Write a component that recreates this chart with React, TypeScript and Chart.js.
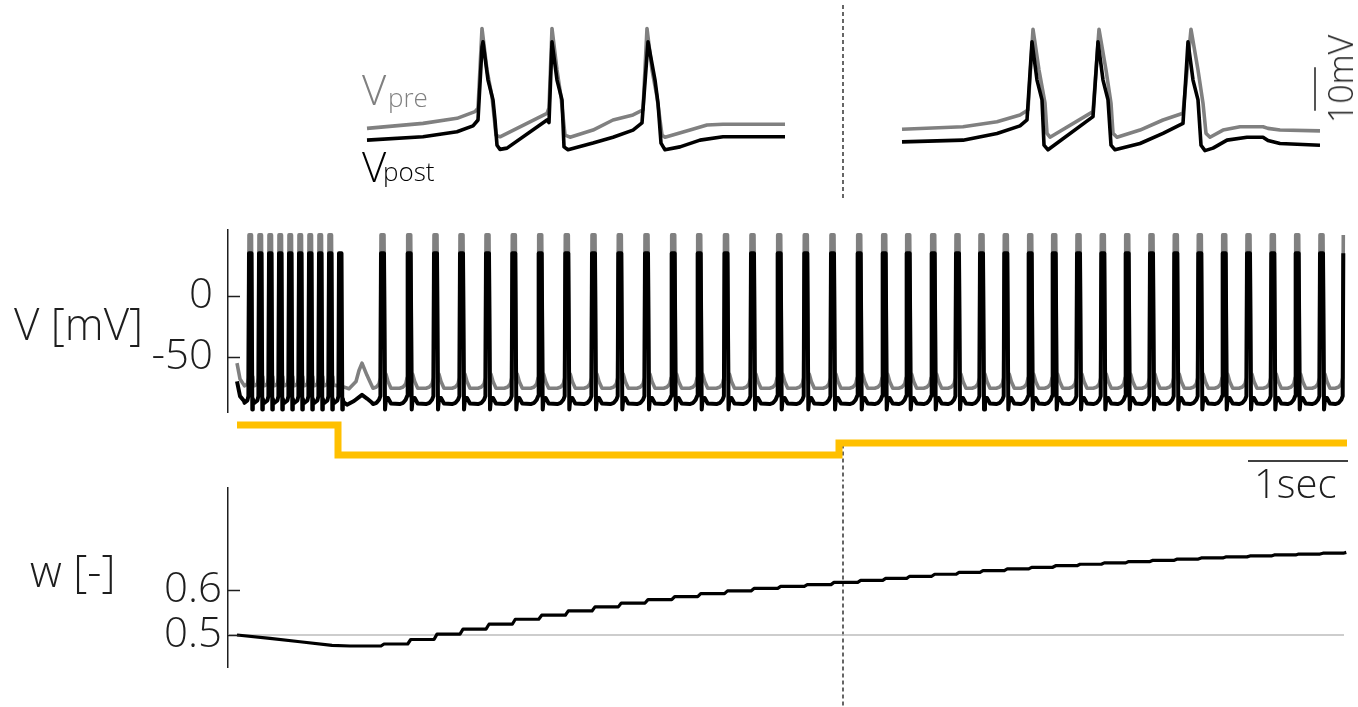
import React, { useEffect, useRef } from "react";
import { Chart, registerables } from "chart.js";

Chart.register(...registerables);

// ---------------- data ----------------
// spike times in seconds
const burstPreTimes = [0.12, 0.22, 0.32, 0.42, 0.52, 0.62, 0.72, 0.82, 0.92];
const burstPostTimes = [0.12, 0.22, 0.32, 0.42, 0.52, 0.62, 0.72, 0.82, 0.92, 1.02];
const tonicTimes = [
  1.44, 1.707, 1.97, 2.23, 2.49, 2.753, 3.017, 3.283, 3.55, 3.813, 4.08, 4.347, 4.607,
  4.875, 5.14, 5.407, 5.673, 5.94, 6.207, 6.457, 6.697, 6.947, 7.19, 7.43, 7.673, 7.917,
  8.157, 8.4, 8.643, 8.887, 9.13, 9.373, 9.613, 9.857, 10.1, 10.343, 10.587, 10.83, 11.063,
];
// spike waveforms during the burst (offset from spike time in s, membrane potential in mV)
const burstShapeT = [-0.045, -0.016, -0.006, 0, 0.025, 0.033, 0.038, 0.045];
const burstShapePre = [-73.5, -72, -67, 50, 50, -70, -66, -73];
const burstShapePost = [-87.5, -85.5, -82, 35, 35, -93, -84, -87];
// spike waveforms during tonic firing
const tonicShapeT = [-0.08, -0.045, -0.02, -0.006, 0, 0.03, 0.04, 0.05, 0.07, 0.1];
const tonicShapePre = [-75.5, -74.5, -72, -67, 50, 50, -69, -64, -70, -75.5];
const tonicShapePost = [-88.5, -87.5, -85, -82, 35, 35, -93, -84, -83.5, -88];
// non-spike parts of the traces (onset transient, sub-threshold bump)
const preExtraT = [0, 0.03, 0.07, 1.05, 1.12, 1.19, 1.22, 1.25, 1.3, 1.34];
const preExtraV = [-55, -68, -73, -74, -76, -70, -61, -55, -65, -72];
const postExtraT = [0, 0.03, 0.07, 1.1, 1.17, 1.25, 1.3, 1.345];
const postExtraV = [-70, -82, -86, -89, -86, -81, -84, -87];
const traceEnd = 11.07;

// synaptic weight w
const wEarlyT = [0, 0.33, 0.63, 0.95, 1.13];
const wEarly = [0.5, 0.4925, 0.485, 0.477, 0.4756];
const wAfterSpike = [
  0.48, 0.49, 0.502, 0.513, 0.524, 0.535, 0.544, 0.5535, 0.5625, 0.571,
  0.5785, 0.5855, 0.592, 0.598, 0.6035, 0.608, 0.612, 0.617, 0.6215, 0.626,
  0.6305, 0.635, 0.639, 0.643, 0.6468, 0.6505, 0.654, 0.6572, 0.6603, 0.6632,
  0.666, 0.6687, 0.6712, 0.6736, 0.6758, 0.6779, 0.6799, 0.6818, 0.6836,
];
const wRef = 0.5;

// stimulus (relative units)
const stimT = [0, 1.01, 1.01, 6.02, 6.02, 11.1];
const stimI = [1, 1, 0, 0, 0.4, 0.4];

// marker time (dashed line)
const markerT = 6.06;

// insets: [time in ms within window, V in mV]
const insetLeftPost: [number, number][] = [
  [0, -66.7], [56, -65.9], [90, -64.7], [106, -63.3], [111, -61.9], [115, -44.5], [116, -43.3],
  [121, -52.4], [126, -57.1], [128, -61.9], [130, -67.9], [133, -68.9], [140, -68.6],
  [180, -61.9], [182, -62.5], [185, -43.3], [190, -52.4], [195, -57.1], [197, -68.3], [201, -69.0],
  [226, -67.4], [246, -66.0], [266, -64.3], [275, -62.6], [281, -43.3], [288, -52.4], [291, -57.9],
  [294, -67.4], [298, -69.0], [313, -68.3], [333, -66.7], [356, -65.9], [418, -65.9],
];
const insetLeftPre: [number, number][] = [
  [0, -63.9], [56, -62.7], [90, -61.5], [108, -59.9], [111, -59.1], [115, -40.1], [120, -50.0],
  [125, -56.4], [129, -65.5], [133, -65.9], [180, -60.3], [182, -59.0], [185, -40.1], [190, -50.0],
  [194, -56.4], [198, -65.5], [203, -66.0], [226, -64.3], [246, -61.9], [266, -60.7], [276, -59.5],
  [280, -40.1], [285, -50.0], [290, -56.4], [295, -65.5], [298, -66.0], [323, -64.3], [340, -63.1],
  [356, -62.9], [418, -62.9],
];
const insetRightPost: [number, number][] = [
  [0, -67.1], [61, -66.7], [95, -65.1], [118, -63.3], [125, -61.9], [130, -43.3], [135, -52.4],
  [140, -57.1], [142, -67.9], [146, -69.0], [191, -61.1], [196, -43.3], [201, -52.4], [206, -57.1],
  [209, -67.9], [213, -69.0], [238, -67.5], [261, -65.1], [281, -62.7], [286, -43.3], [291, -52.4],
  [296, -57.1], [299, -67.9], [303, -69.2], [311, -68.6], [325, -66.7], [345, -66.0], [361, -66.0],
  [366, -66.8], [378, -67.5], [418, -67.9],
];
const insetRightPre: [number, number][] = [
  [0, -64.1], [61, -63.5], [95, -62.3], [118, -60.7], [126, -59.5], [131, -40.3], [137, -50.0],
  [143, -57.9], [145, -65.1], [148, -66.0], [191, -59.9], [197, -40.3], [204, -50.0], [209, -57.9],
  [211, -65.1], [215, -66.0], [238, -64.3], [261, -61.9], [281, -60.3], [289, -40.3], [296, -50.0],
  [301, -57.9], [304, -65.1], [308, -66.0], [321, -64.3], [338, -63.5], [361, -63.5], [366, -63.9],
  [378, -64.3], [418, -64.5],
];

// axis ticks and scale bars
const vTicks = [-50, 0];
const wTicks = [0.5, 0.6];
const scaleBarMV = 10;
const scaleBarSec = 1;

// ---------------- helpers ----------------
const FONT = "'Open Sans', 'Noto Sans', sans-serif";
const GRAY = "#808080";
const INK = "#1e1e1e";

type Pt = { x: number; y: number };

function placeSpikes(pts: Pt[], times: number[], shapeT: number[], shapeV: number[]) {
  times.forEach((s) => shapeT.forEach((dt, i) => pts.push({ x: s + dt, y: shapeV[i] })));
}

function spikeTrain(
  burst: number[],
  burstV: number[],
  tonicV: number[],
  extraT: number[],
  extraV: number[]
) {
  const pts: Pt[] = [];
  placeSpikes(pts, burst, burstShapeT, burstV);
  placeSpikes(pts, tonicTimes, tonicShapeT, tonicV);
  extraT.forEach((t, i) => pts.push({ x: t, y: extraV[i] }));
  pts.sort((a, b) => a.x - b.x);
  return pts.filter((p) => p.x <= traceEnd);
}

function wTrace() {
  const pts = wEarlyT.map((t, i) => ({ x: t, y: wEarly[i] }));
  let prev = wEarly[wEarly.length - 1];
  tonicTimes.forEach((s, i) => {
    pts.push({ x: s, y: prev });
    pts.push({ x: s + 0.03, y: wAfterSpike[i] });
    prev = wAfterSpike[i];
  });
  return pts;
}

const pairs = (arr: [number, number][]) => arr.map(([x, y]) => ({ x, y }));

const line = (data: any[], color: string, width: number, extra: any = {}) => ({
  type: "line",
  data,
  borderColor: color,
  backgroundColor: color,
  borderWidth: width,
  pointRadius: 0,
  pointHoverRadius: 0,
  fill: false,
  tension: 0,
  borderJoinStyle: "round",
  clip: false,
  ...extra,
});

const inwardTicks = {
  id: "inwardTicks",
  afterDatasetsDraw(chart: any, _args: any, opts: any) {
    if (!opts || !opts.scaleId) return;
    const s = chart.scales[opts.scaleId];
    const ctx = chart.ctx;
    const left = chart.chartArea.left;
    ctx.save();
    ctx.strokeStyle = opts.color;
    ctx.lineWidth = opts.width;
    s.ticks.forEach((t: any) => {
      const y = Math.round(s.getPixelForValue(t.value)) + 0.5;
      ctx.beginPath();
      ctx.moveTo(left, y);
      ctx.lineTo(left + opts.length, y);
      ctx.stroke();
    });
    ctx.restore();
  },
};

const baseOptions = (padding: any, scales: any, plugins: any = {}) => ({
  animation: false,
  responsive: false,
  maintainAspectRatio: false,
  events: [],
  layout: { padding },
  plugins: { legend: { display: false }, tooltip: { enabled: false }, ...plugins },
  scales,
});

const hidden = (min: number, max: number) => ({ type: "linear", display: false, min, max });

const yAxis = (min: number, max: number, ticks: number[], pad: number, fmt: (v: number) => string) => ({
  type: "linear",
  position: "left",
  min,
  max,
  afterFit: (s: any) => {
    s.width = 228;
    s.paddingTop = 0;
    s.paddingBottom = 0;
  },
  afterBuildTicks: (s: any) => {
    s.ticks = ticks.map((v) => ({ value: v }));
  },
  grid: { display: false, drawTicks: false },
  border: { display: true, color: INK, width: 1.5 },
  ticks: {
    padding: pad,
    color: INK,
    font: { family: FONT, size: 42, weight: "300", lineHeight: 0.05 },
    callback: (v: any) => fmt(Number(v)),
  },
});

export default function App() {
  const insetRef = useRef<HTMLCanvasElement>(null);
  const vRef = useRef<HTMLCanvasElement>(null);
  const stimRef = useRef<HTMLCanvasElement>(null);
  const wRef2 = useRef<HTMLCanvasElement>(null);

  useEffect(() => {
    const charts: Chart[] = [];

    // --- insets + top part of marker line ---
    charts.push(
      new Chart(insetRef.current as HTMLCanvasElement, {
        type: "line",
        data: {
          datasets: [
            line(pairs(insetLeftPost), "#000", 3.6, { xAxisID: "xL", yAxisID: "y" }),
            line(pairs(insetRightPost), "#000", 3.6, { xAxisID: "xR", yAxisID: "y" }),
            line(pairs(insetLeftPre), GRAY, 3.6, { xAxisID: "xL", yAxisID: "y" }),
            line(pairs(insetRightPre), GRAY, 3.6, { xAxisID: "xR", yAxisID: "y" }),
            line([{ x: 413, y: -49.5 }, { x: 413, y: -49.5 - scaleBarMV }], "#555", 2, { xAxisID: "xR", yAxisID: "y" }),
            line([{ x: markerT, y: -34.5 }, { x: markerT, y: -80.5 }], "#000", 1.2, {
              xAxisID: "xt",
              yAxisID: "y",
              borderDash: [4, 3],
            }),
          ],
        } as any,
        options: baseOptions(0, {
          xL: hidden(-367, 991),
          xR: hidden(-902, 456),
          xt: hidden(-2.37, 11.21),
          y: hidden(-80.95, -33.33),
        }) as any,
      })
    );

    // --- membrane potential panel ---
    charts.push(
      new Chart(vRef.current as HTMLCanvasElement, {
        type: "line",
        data: {
          datasets: [
            line(spikeTrain(burstPostTimes, burstShapePost, tonicShapePost, postExtraT, postExtraV), "#000", 4),
            line(spikeTrain(burstPreTimes, burstShapePre, tonicShapePre, preExtraT, preExtraV), GRAY, 3.6),
          ],
        } as any,
        options: baseOptions(
          { left: 0, right: 11, top: 10, bottom: 8 },
          {
            x: hidden(-0.09, 11.1),
            y: yAxis(-95, 54, vTicks, 15, (v) => String(v)),
          },
          { inwardTicks: { scaleId: "y", color: INK, width: 1.5, length: 12 } }
        ) as any,
        plugins: [inwardTicks],
      })
    );

    // --- stimulus + time scale bar ---
    charts.push(
      new Chart(stimRef.current as HTMLCanvasElement, {
        type: "line",
        data: {
          datasets: [
            line(stimT.map((t, i) => ({ x: t, y: stimI[i] })), "#ffc000", 7, { borderJoinStyle: "miter" }),
            line([{ x: 11.11 - scaleBarSec, y: -0.2 }, { x: 11.11, y: -0.2 }], "#000", 1.5),
            line([{ x: markerT, y: 0.35 }, { x: markerT, y: -0.95 }], "#000", 1.2, { borderDash: [4, 3] }),
          ],
        } as any,
        options: baseOptions(
          { left: 228, right: 11, top: 10, bottom: 15 },
          { x: hidden(-0.09, 11.1), y: hidden(-0.3333, 1.3333) }
        ) as any,
      })
    );

    // --- synaptic weight panel ---
    charts.push(
      new Chart(wRef2.current as HTMLCanvasElement, {
        type: "line",
        data: {
          datasets: [
            line(wTrace(), "#000", 3.2),
            line([{ x: -0.09, y: wRef }, { x: traceEnd, y: wRef }], "#bdbdbd", 1.5),
            line([{ x: markerT, y: 0.85 }, { x: markerT, y: 0.33 }], "#000", 1.2, { borderDash: [4, 3] }),
          ],
        } as any,
        options: baseOptions(
          { left: 0, right: 11, top: 8, bottom: 40 },
          {
            x: hidden(-0.09, 11.1),
            y: yAxis(0.4289, 0.8267, wTicks, 6, (v) => v.toFixed(1)),
          },
          { inwardTicks: { scaleId: "y", color: INK, width: 1.5, length: 12 } }
        ) as any,
        plugins: [inwardTicks],
      })
    );

    return () => charts.forEach((c) => c.destroy());
  }, []);

  const txt = (left: number, top: number, size: number, color = INK): React.CSSProperties => ({
    position: "absolute",
    left,
    top,
    fontSize: size,
    lineHeight: 1,
    color,
    fontFamily: FONT,
    fontWeight: 300,
    whiteSpace: "nowrap",
  });
  const cv = (top: number): React.CSSProperties => ({ position: "absolute", left: 0, top, display: "block" });

  return (
    <div style={{ position: "absolute", left: 0, top: 0, width: 1358, height: 707, background: "#fff", overflow: "hidden" }}>
      <canvas ref={insetRef} width={1358} height={200} style={cv(0)} />
      <canvas ref={vRef} width={1358} height={200} style={cv(220)} />
      <canvas ref={stimRef} width={1358} height={75} style={cv(405)} />
      <canvas ref={wRef2} width={1358} height={227} style={cv(480)} />

      <div style={txt(362, 68, 42, GRAY)}>V</div>
      <div style={txt(388, 84, 26, GRAY)}>pre</div>
      <div style={txt(362, 145, 42, "#000")}>V</div>
      <div style={txt(383, 158, 26, "#000")}>post</div>

      <div style={txt(14, 301, 44)}>V [mV]</div>
      <div style={txt(30, 548, 44)}>w [-]</div>
      <div style={txt(1254, 463, 40)}>1sec</div>
      <div
        style={{
          ...txt(1340, 79, 34),
          transform: "translate(-50%, -50%) rotate(-90deg)",
        }}
      >
        10mV
      </div>
    </div>
  );
}
